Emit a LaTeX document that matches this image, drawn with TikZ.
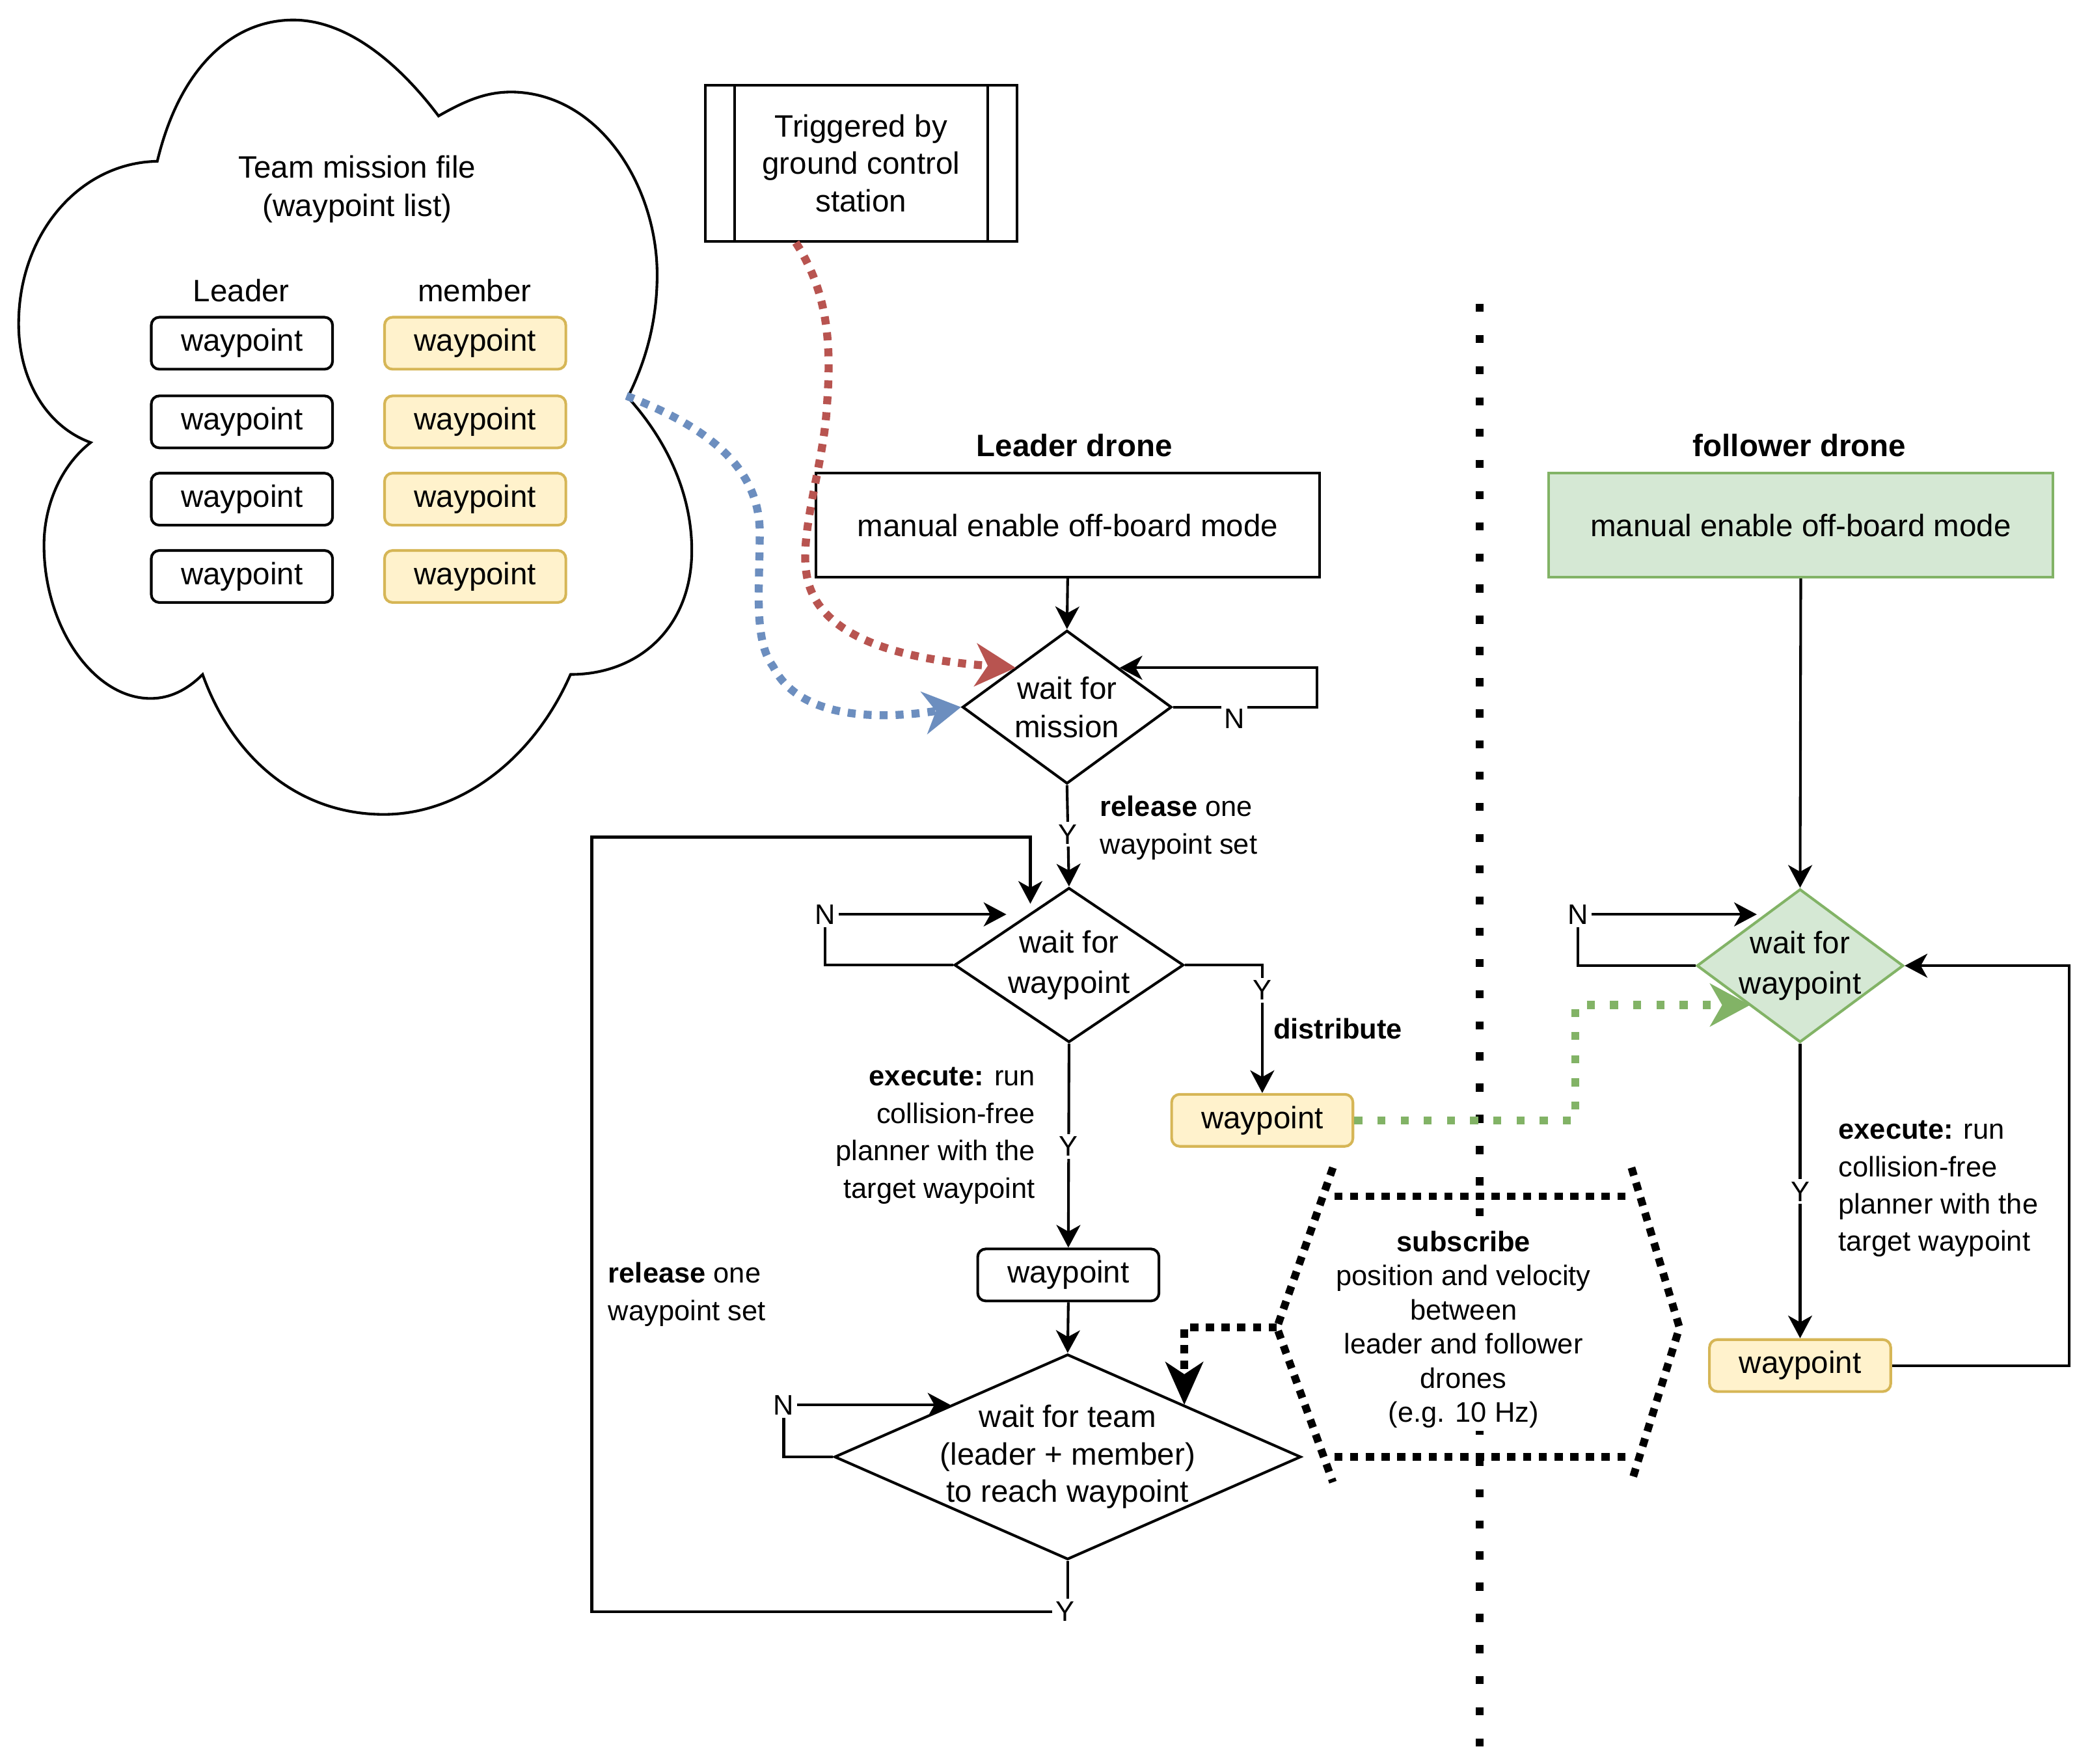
\documentclass[tikz,border=0pt]{standalone}
\usepackage{fontspec}
\setmainfont{Liberation Sans}
\usetikzlibrary{arrows.meta,shapes.geometric,calc}
\definecolor{redc}{HTML}{B85450}
\definecolor{bluec}{HTML}{6C8EBF}
\definecolor{greenc}{HTML}{82B366}
\definecolor{greenf}{HTML}{D5E8D4}
\definecolor{yelf}{HTML}{FFF2CC}
\definecolor{yeld}{HTML}{D6B656}
\tikzset{
  bigfont/.style={font=\fontsize{11.6}{14}\selectfont},
  smallfont/.style={font=\fontsize{10.6}{14}\selectfont},
  conn/.style={draw=black, line width=1pt},
  arr/.style={conn, -{Stealth[length=8.5pt,width=9pt,inset=2.5pt]}},
  rbox/.style={draw=black, line width=1pt, bigfont, align=center, inner sep=0pt},
  wpbox/.style={rbox, rounded corners=3pt, minimum width=68pt, minimum height=19.5pt},
  wpyel/.style={wpbox, draw=yeld, fill=yelf},
  dia/.style={draw=black, line width=1pt, shape=diamond, inner sep=0pt},
  txt/.style={bigfont, align=center, inner sep=0pt},
  lab/.style={smallfont, inner sep=1pt},
  yn/.style={smallfont, fill=white, inner sep=1pt},
  colordot/.style={line width=3pt, dash pattern=on 3pt off 3pt},
  greendot/.style={line width=3pt, dash pattern=on 3pt off 5.7pt, draw=greenc},
  heavydot/.style={line width=2.9pt, dash pattern=on 3.1pt off 2.8pt},
  blackhead/.style={-{Stealth[length=16pt,width=14pt,inset=4.5pt]}},
}
\begin{document}
\begin{tikzpicture}[x=0.5pt,y=-0.5pt]
\fill[white] (0,0) rectangle (1568,1323);
\useasboundingbox (0,0) rectangle (1568,1323);

% ---------------- cloud ----------------
\draw[line width=1pt] (118,121)
  .. controls (135,50) and (175,15) .. (220,15)
  .. controls (265,15) and (305,55) .. (329,87)
  .. controls (350,75) and (365,69) .. (384,69)
  .. controls (450,70) and (493,140) .. (493,206)
  .. controls (493,240) and (485,270) .. (471,298)
  .. controls (500,330) and (519,370) .. (519,413)
  .. controls (519,470) and (480,506) .. (428,506)
  .. controls (400,570) and (345,611) .. (288,611)
  .. controls (225,611) and (175,570) .. (152,506)
  .. controls (140,518) and (127,524) .. (113,524)
  .. controls (70,524) and (33,470) .. (33,409)
  .. controls (33,380) and (45,350) .. (68,332)
  .. controls (35,320) and (14,285) .. (14,243)
  .. controls (14,175) and (60,122) .. (118,121) -- cycle;
\coordinate (cloudpt) at (470,297);

\node[txt, font=\fontsize{11.6}{14.5}\selectfont] (title) at (268,142) {Team mission file\\(waypoint list)};
\node[txt] (leadlbl) at (181,218) {Leader};
\node[txt] (memlbl) at (356,218) {member};
\node[wpbox] (l1) at (181.5,257.5) {waypoint};
\node[wpbox] (l2) at (181.5,316.5) {waypoint};
\node[wpbox] (l3) at (181.5,374.5) {waypoint};
\node[wpbox] (l4) at (181.5,432.5) {waypoint};
\node[wpyel] (m1) at (356.5,257.5) {waypoint};
\node[wpyel] (m2) at (356.5,316.5) {waypoint};
\node[wpyel] (m3) at (356.5,374.5) {waypoint};
\node[wpyel] (m4) at (356.5,432.5) {waypoint};

% ---------------- trigger ----------------
\node[rbox, minimum width=117pt, minimum height=58.5pt] (trig) at (646,122.5) {Triggered by\\ground control\\station};
\draw[conn] ($(trig.north west)+(23,0)$) -- ($(trig.south west)+(23,0)$);
\draw[conn] ($(trig.north east)+(-23,0)$) -- ($(trig.south east)+(-23,0)$);
\coordinate (redstart) at ($(trig.south west)+(69,0)$);

% ---------------- divider ----------------
\coordinate (divtop) at (1110,228);
\coordinate (divbot) at (1110,1310);
\draw[line width=2.8pt, dash pattern=on 3pt off 8.7pt] (divtop) -- (divbot);

% ---------------- leader ----------------
\node[txt, font=\bfseries\fontsize{11.6}{14}\selectfont] (ldlbl) at (806,334) {Leader drone};
\node[rbox, minimum width=189pt, minimum height=39pt] (lbox) at (801,394) {manual enable off-board mode};

\node[dia, minimum width=78.5pt, minimum height=57.5pt] (dm) at (800.5,530.5) {};
\node[txt, font=\fontsize{11.6}{14.5}\selectfont] (dmt) at (dm.center) {wait for\\mission};

\node[dia, minimum width=86pt, minimum height=58pt] (dw) at (802,724) {};
\node[txt, font=\fontsize{11.6}{15}\selectfont] (dwt) at (dw.center) {wait for\\waypoint};

\node[wpyel] (ywp) at (947,840.5) {waypoint};
\node[wpbox] (lwp) at (801.5,956.5) {waypoint};

\node[dia, minimum width=175pt, minimum height=77pt] (dt) at (801,1093) {};
\node[txt] (dtt) at (dt.center) {wait for team\\(leader + member)\\to reach waypoint};

% connectors leader
\draw[arr] (lbox.south) -- (dm.north);
\coordinate (cN1) at (840,501);
\draw[arr] (dm.east) -- (988,530.5) -- (988,501) -- (cN1);
\node[yn] (n1) at (926,539) {N};

\draw[arr] (dm.south) -- (dw.north);
\node[yn] (y1) at (801,626) {Y};
\node[lab, anchor=west, align=left] (rel1) at (823,621) {\textbf{release} one\\waypoint set};

\node[lab] (n2) at (619,686) {N};
\coordinate (cN2) at (755,686);
\draw[conn] (dw.west) -| (n2.south);
\draw[arr] (n2.east) -- (cN2);

\draw[arr] (dw.east) -| (ywp.north);
\node[yn] (y2) at (947,743) {Y};
\node[lab, anchor=west, font=\bfseries\fontsize{10.6}{14}\selectfont] (distr) at (953,772) {distribute};

\draw[arr] (dw.south) -- (lwp.north);
\node[yn] (y3) at (801.5,860) {Y};
\node[lab, anchor=east, align=right] (lexec) at (779,852) {\textbf{execute:} run\\collision-free\\planner with the\\target waypoint};

\draw[arr] (lwp.south) -- (dt.north);

\node[lab] (n3) at (588,1054) {N};
\coordinate (cN3) at (713,1054);
\draw[conn] (dt.west) -| (n3.south);
\draw[arr] (n3.east) -- (cN3);

\node[lab] (y4) at (799,1209) {Y};
\coordinate (cY4) at (773,678);
\draw[conn] (dt.south) -- (dt.south |- y4.north);
\draw[arr] (y4.west) -| (444,628) -| (cY4);
\node[lab, anchor=west, align=left] (rel2) at (454,971) {\textbf{release} one\\waypoint set};

% ---------------- follower ----------------
\node[txt, font=\bfseries\fontsize{11.6}{14}\selectfont] (fdlbl) at (1350,334) {follower drone};
\node[rbox, minimum width=189pt, minimum height=39pt, draw=greenc, fill=greenf] (fbox) at (1351,394) {manual enable off-board mode};
\node[dia, minimum width=77.5pt, minimum height=57.5pt, draw=greenc, fill=greenf] (df) at (1350.5,724.5) {};
\node[txt, font=\fontsize{11.6}{15}\selectfont] (dft) at (df.center) {wait for\\waypoint};
\node[wpyel] (fwp) at (1350.5,1024.5) {waypoint};

\draw[arr] (fbox.south) -- (df.north);
\node[lab] (nf) at (1184,686) {N};
\coordinate (cNf) at (1318,686);
\draw[conn] (df.west) -| (nf.south);
\draw[arr] (nf.east) -- (cNf);

\draw[arr] (df.south) -- (fwp.north);
\node[yn] (yf) at (1350.5,894) {Y};
\node[lab, anchor=west, align=left] (fexec) at (1377,892) {\textbf{execute:} run\\collision-free\\planner with the\\target waypoint};
\draw[arr] (fwp.east) -- ++(133,0) |- (df.east);

% ---------------- hexagon ----------------
\coordinate (hexL) at (958,996);
\coordinate (hexR) at (1260,996);
\draw[heavydot] (1000,876) -- (hexL) -- (1000,1112);
\draw[heavydot] (1224,876) -- (hexR) -- (1224,1112);
\draw[heavydot] (1001,897.5) -- (1224,897.5);
\draw[heavydot] (1001,1093) -- (1224,1093);
\node[fill=white, inner sep=1pt, align=center, font=\fontsize{10.6}{12.8}\selectfont] (hext) at (1098,997.5) {\textbf{subscribe}\\position and velocity\\between\\leader and follower\\drones\\(e.g. 10 Hz)};

\coordinate (dtUR) at (888.5,1054);
\draw[heavydot, blackhead] (hexL) -| (dtUR);

% ---------------- coloured dotted arrows ----------------
\coordinate (dmUL) at (762,501);
\draw[colordot, draw=redc, -{Stealth[length=15pt,width=16pt,inset=4.5pt,fill=redc]}] (redstart)
  .. controls (625,225) and (623,270) .. (620,310)
  .. controls (617,350) and (600,400) .. (605,430)
  .. controls (612,480) and (680,495) .. (dmUL);

\draw[colordot, draw=bluec, -{Stealth[length=14pt,width=16pt,inset=4.5pt,fill=bluec]}] (cloudpt)
  .. controls (530,320) and (570,350) .. (570,400)
  .. controls (570,440) and (565,480) .. (580,500)
  .. controls (600,540) and (660,540) .. (dm.west);

\coordinate (dfLL) at (1313,754);
\draw[greendot, -{Stealth[length=15pt,width=16pt,inset=4.5pt,fill=greenc]}] (ywp.east) -| (1182,754) -- (dfLL);

\end{tikzpicture}
\end{document}
